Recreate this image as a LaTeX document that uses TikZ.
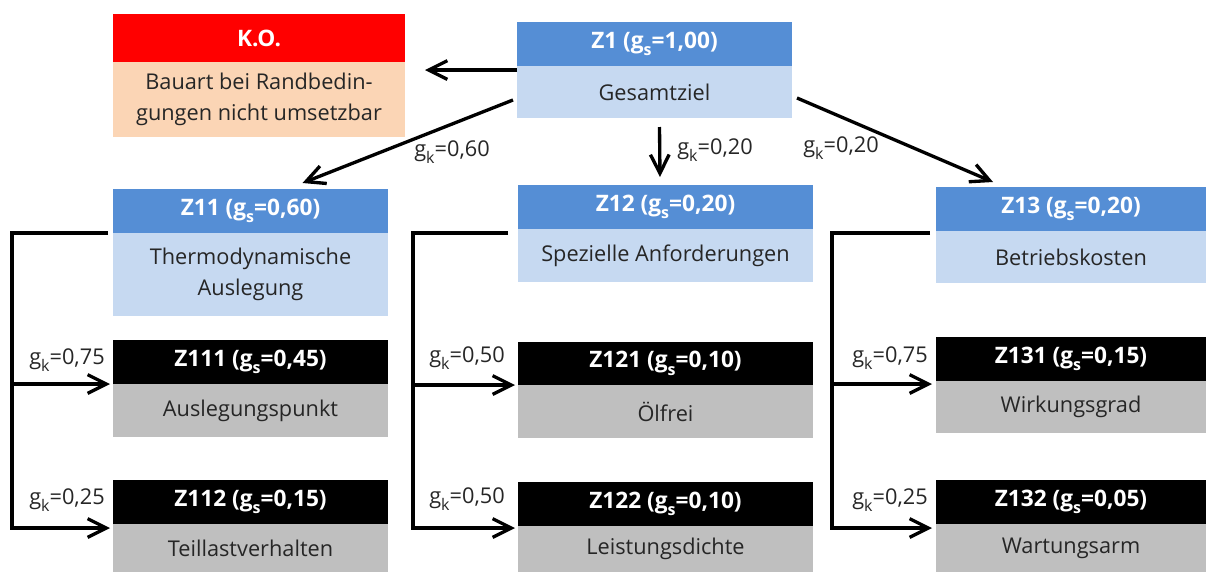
\documentclass[tikz,border=0pt]{standalone}
\usepackage{fontspec}
\setmainfont{Open Sans}
\usetikzlibrary{arrows.meta,calc}
\definecolor{hblue}{HTML}{558ED5}
\definecolor{lblue}{HTML}{C6D9F1}
\definecolor{lgray}{HTML}{BFBFBF}
\definecolor{peach}{HTML}{FBD5B5}
\newcommand\lowsub[1]{\raisebox{-0.6ex}{\fontsize{12}{12}\selectfont #1}}
\newcommand\zbox[7]{\node[#6,minimum width={(#4-#2)*0.75pt},minimum height={(#5-#3)*0.75pt}] (#1) at ({(#2+#4)/2},{(#3+#5)/2}) {#7};}
\begin{document}
\begin{tikzpicture}[x=0.75pt,y=-0.75pt,
  box/.style={inner sep=0pt,outer sep=0pt,align=center,font=\fontsize{16.3}{23.5}\selectfont},
  hdr/.style={box,fill=hblue,text=white,font=\fontsize{17}{23.5}\selectfont\bfseries},
  bdy/.style={box,fill=lblue,text=black!85},
  hdrk/.style={box,fill=black,text=white,font=\fontsize{17}{23.5}\selectfont\bfseries},
  bdyg/.style={box,fill=lgray,text=black!85},
  hdrr/.style={box,fill=red,text=white,font=\fontsize{17}{23.5}\selectfont\bfseries},
  bdyp/.style={box,fill=peach,text=black!85},
  ln/.style={line width=2.5pt},
  arr/.style={ln,-{Straight Barb[length=14pt,width=14pt]}},
  lbl/.style={inner sep=0pt,text=black!85,font=\fontsize{16.3}{20}\selectfont}]
\useasboundingbox (0,0) rectangle (1206,572);
% K.O.
\zbox{koh}{113}{14}{405}{62}{hdrr}{K.O.}
\zbox{kob}{113}{62}{405}{137}{bdyp}{Bauart bei Randbedin-\\gungen nicht umsetzbar}
% Z1
\zbox{z1h}{517}{22}{792}{66}{hdr}{Z1 (g\lowsub{s}=1,00)}
\zbox{z1b}{517}{66}{792}{118}{bdy}{Gesamtziel}
% Z11
\zbox{z11h}{113}{189}{388}{233}{hdr}{Z11 (g\lowsub{s}=0,60)}
\zbox{z11b}{113}{233}{388}{316}{bdy}{Thermodynamische\\Auslegung}
% Z12
\zbox{z12h}{518}{185}{813}{229}{hdr}{Z12 (g\lowsub{s}=0,20)}
\zbox{z12b}{518}{229}{813}{282}{bdy}{Spezielle Anforderungen}
% Z13
\zbox{z13h}{936}{187}{1206}{231}{hdr}{Z13 (g\lowsub{s}=0,20)}
\zbox{z13b}{936}{231}{1206}{283}{bdy}{Betriebskosten}
% leaves
\zbox{z111h}{113}{340}{388}{384}{hdrk}{Z111 (g\lowsub{s}=0,45)}
\zbox{z111b}{113}{384}{388}{437}{bdyg}{Auslegungspunkt}
\zbox{z112h}{113}{480}{388}{524}{hdrk}{Z112 (g\lowsub{s}=0,15)}
\zbox{z112b}{113}{524}{388}{572}{bdyg}{Teillastverhalten}
\zbox{z121h}{518}{342}{813}{385}{hdrk}{Z121 (g\lowsub{s}=0,10)}
\zbox{z121b}{518}{385}{813}{438}{bdyg}{Ölfrei}
\zbox{z122h}{518}{482}{813}{526}{hdrk}{Z122 (g\lowsub{s}=0,10)}
\zbox{z122b}{518}{526}{813}{572}{bdyg}{Leistungsdichte}
\zbox{z131h}{936}{337}{1206}{381}{hdrk}{Z131 (g\lowsub{s}=0,15)}
\zbox{z131b}{936}{381}{1206}{433}{bdyg}{Wirkungsgrad}
\zbox{z132h}{936}{480}{1206}{524}{hdrk}{Z132 (g\lowsub{s}=0,05)}
\zbox{z132b}{936}{524}{1206}{572}{bdyg}{Wartungsarm}
% top connectors
\draw[arr] ($(z1b.north west)+(0,4)$) -- ($(kob.north east)+(20,8)$);
\draw[arr] ($(z1b.west)+(-4,8)$) -- ($(z11h.north)+(52,-6)$);
\draw[arr] ($(z1b.south)+(5,9)$) -- ($(z12h.north)+(-5.5,-8)$);
\draw[arr] ($(z1b.south east)+(5,-20)$) -- ($(z13h.north)+(-78,-5)$);
\node[lbl] (l1) at (452,152) {g\lowsub{k}=0,60};
\node[lbl] (l2) at (715,150) {g\lowsub{k}=0,20};
\node[lbl] (l3) at (841,148) {g\lowsub{k}=0,20};
% brackets
\coordinate (c1) at ($(z11b.north west)+(-101,0)$);
\draw[arr] ($(z11b.north west)+(-5,0)$) -- (c1) |- ($(z112h.south west)+(-3,4)$);
\draw[arr] (c1 |- z111h.south) -- ($(z111h.south west)+(-3,0)$);
\coordinate (c2) at ($(z12b.north west)+(-105,4)$);
\draw[arr] ($(z12b.north west)+(-10,4)$) -- (c2) |- ($(z122h.south west)+(-3,2)$);
\draw[arr] (c2 |- z121h.south) -- ($(z121h.south west)+(-3,0)$);
\coordinate (c3) at ($(z13b.north west)+(-104,2)$);
\coordinate (c3a) at ($(z131h.south west)+(0,3)$);
\draw[arr] ($(z13b.north west)+(-6,2)$) -- (c3) |- ($(z132h.south west)+(-4,4)$);
\draw[arr] (c3 |- c3a) -- ($(c3a)+(-4,0)$);
\node[lbl] (l4) at (67,360) {g\lowsub{k}=0,75};
\node[lbl] (l5) at (67,500) {g\lowsub{k}=0,25};
\node[lbl] (l6) at (467,358) {g\lowsub{k}=0,50};
\node[lbl] (l7) at (467,499) {g\lowsub{k}=0,50};
\node[lbl] (l8) at (890,358) {g\lowsub{k}=0,75};
\node[lbl] (l9) at (890,500) {g\lowsub{k}=0,25};
\end{tikzpicture}
\end{document}
